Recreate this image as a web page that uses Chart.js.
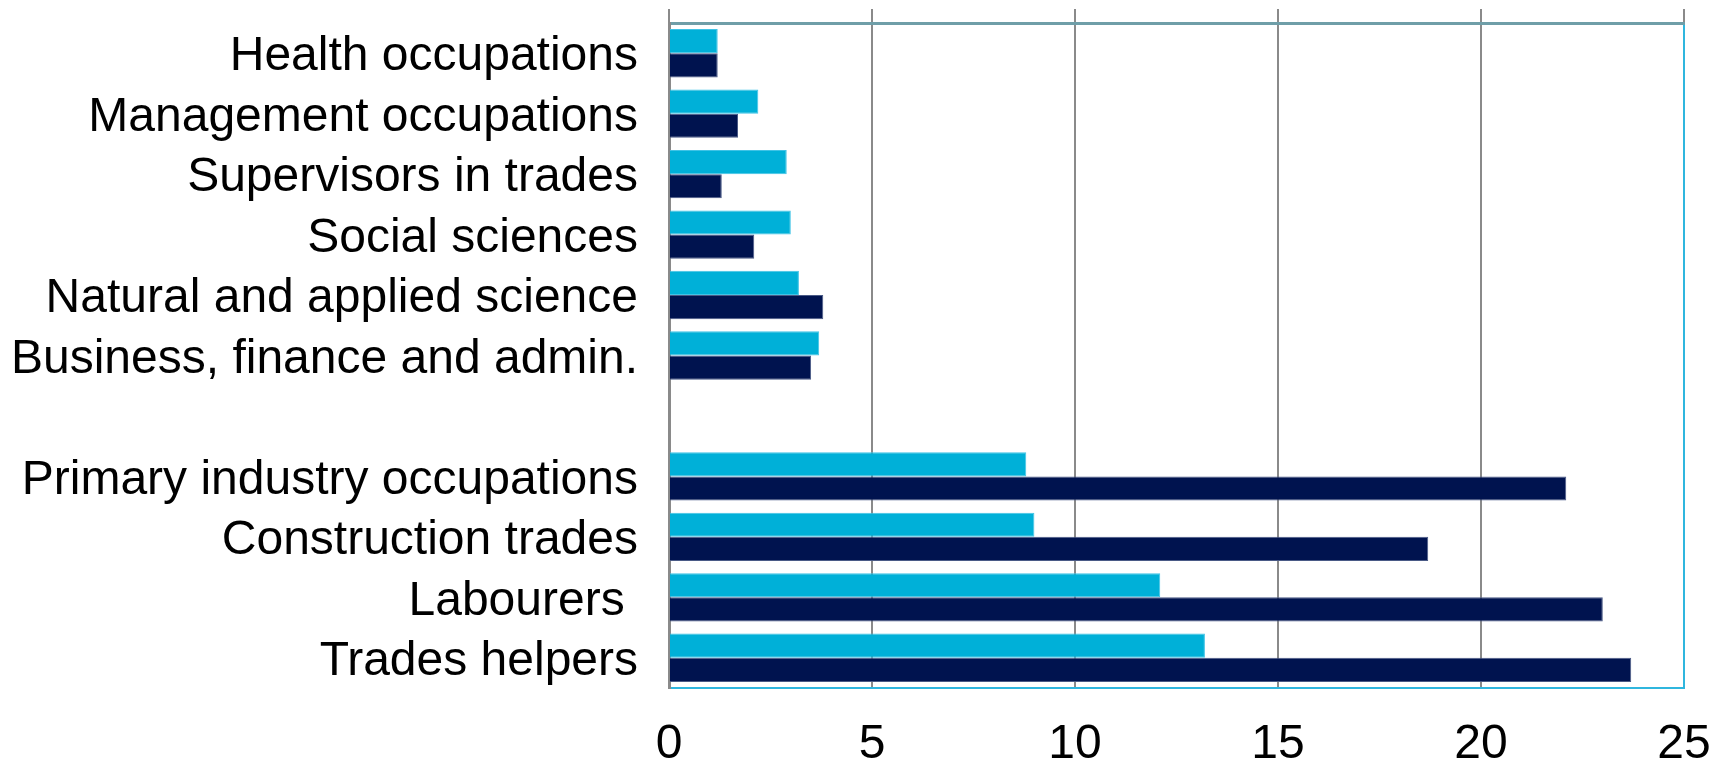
<!DOCTYPE html>
<html>
<head>
<meta charset="utf-8">
<script src="https://cdn.jsdelivr.net/npm/chart.js"></script>
<style>
    html, body { margin: 0; padding: 0; background: #ffffff; }
    #wrap { width: 1727px; height: 765px; position: relative; }
</style>
</head>
<body>
<div id="wrap"><canvas id="occChart"></canvas></div>
<script>
// Categorias (de arriba hacia abajo), la vacia es el hueco entre los dos grupos
const categories = [
    'Health occupations',
    'Management occupations',
    'Supervisors in trades',
    'Social sciences',
    'Natural and applied science',
    'Business, finance and admin.',
    '',
    'Primary industry occupations',
    'Construction trades',
    'Labourers ',
    'Trades helpers'
];

// Valores
const seriesLight = [1.2, 2.2, 2.9, 3.0, 3.2, 3.7, null, 8.8, 9.0, 12.1, 13.2];
const seriesDark = [1.2, 1.7, 1.3, 2.1, 3.8, 3.5, null, 22.1, 18.7, 23.0, 23.7];

// Eje X
const xTicks = [0, 5, 10, 15, 20, 25];

const fontFamily = "'Liberation Sans', Arial, sans-serif";
const gridGray = '#8a8a8a';
const borderBlue = '#2fb6de';

const ctx = document.getElementById('occChart').getContext('2d');
new Chart(ctx, {
    type: 'bar',
    data: {
        labels: categories,
        datasets: [{
            label: 'Series 1',
            data: seriesLight,
            backgroundColor: '#00b0d8',
            borderColor: '#3fc3e6',
            borderWidth: 1,
            categoryPercentage: 0.8,
            barPercentage: 1.0
        }, {
            label: 'Series 2',
            data: seriesDark,
            backgroundColor: '#00134f',
            borderColor: '#4a5a86',
            borderWidth: 1,
            categoryPercentage: 0.8,
            barPercentage: 1.0
        }]
    },
    options: {
        indexAxis: 'y',
        responsive: true,
        maintainAspectRatio: false,
        animation: false,
        layout: {
            padding: { top: 9, right: 43, bottom: 0, left: 0 }
        },
        plugins: {
            legend: { display: false },
            tooltip: { enabled: false }
        },
        scales: {
            x: {
                position: 'bottom',
                min: xTicks[0],
                max: xTicks[xTicks.length - 1],
                afterBuildTicks: (scale) => {
                    scale.ticks = xTicks.map(v => ({ value: v }));
                },
                grid: {
                    color: (c) => (c.tick && c.tick.value === 25) ? borderBlue : gridGray,
                    lineWidth: 2,
                    drawTicks: false
                },
                border: { display: true, color: borderBlue, width: 2 },
                ticks: {
                    color: '#000000',
                    padding: 28,
                    font: { family: fontFamily, size: 48 }
                },
                afterFit: (scale) => {
                    scale.height = 77;
                    scale.paddingLeft = 0;
                    scale.paddingRight = 0;
                }
            },
            x2: {
                position: 'top',
                min: xTicks[0],
                max: xTicks[xTicks.length - 1],
                afterBuildTicks: (scale) => {
                    scale.ticks = xTicks.map(v => ({ value: v }));
                },
                grid: {
                    color: gridGray,
                    lineWidth: 2,
                    drawOnChartArea: false,
                    drawTicks: true,
                    tickLength: 14
                },
                border: { display: true, color: '#6f9ea8', width: 3 },
                ticks: { display: false }
            },
            y: {
                grid: { display: false },
                border: { display: true, color: gridGray, width: 3 },
                ticks: {
                    color: '#000000',
                    padding: 23,
                    labelOffset: 4,
                    autoSkip: false,
                    font: { family: fontFamily, size: 48 }
                },
                afterFit: (scale) => {
                    scale.width = 669;
                    scale.paddingTop = 0;
                    scale.paddingBottom = 0;
                }
            }
        }
    }
});
</script>
</body>
</html>
